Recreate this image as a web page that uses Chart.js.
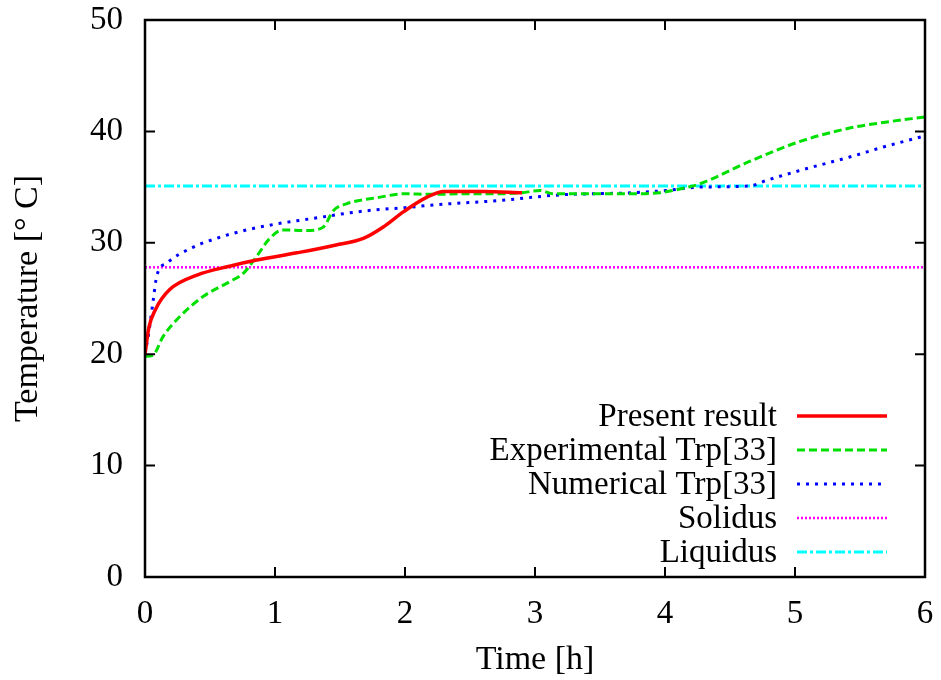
<!DOCTYPE html>
<html>
<head>
<meta charset="utf-8">
<script src="https://cdn.jsdelivr.net/npm/chart.js@4"></script>
<style>
  body { margin: 0; background: #fff; }
  #wrap { width: 941px; height: 680px; position: relative; }
</style>
</head>
<body>
<div id="wrap"><canvas id="tempChart"></canvas></div>
<script>
// values (time in hours, temperature in °C)
const presentTime = [0, 0.03, 0.08, 0.19, 0.4, 0.65, 0.86, 1.17, 1.47, 1.68, 1.83, 1.99, 2.17, 2.3, 2.6, 2.9];
const presentTemp = [20, 22.4, 24, 25.8, 27.1, 27.9, 28.45, 29.1, 29.8, 30.4, 31.4, 32.8, 34.1, 34.6, 34.6, 34.5];

const expTime = [0, 0.06, 0.14, 0.27, 0.45, 0.65, 0.76, 0.86, 0.96, 1.06, 1.24, 1.37, 1.45, 1.55, 1.81, 1.99, 2.2, 2.47, 2.73, 2.9, 3.04, 3.14, 3.24, 3.5, 3.76, 3.96, 4.14, 4.27, 4.65, 5.04, 5.42, 5.68, 6];
const expTemp = [19.8, 19.9, 21.6, 23.4, 25.2, 26.5, 27.3, 28.8, 30.4, 31.15, 31.1, 31.4, 32.9, 33.5, 34.1, 34.4, 34.35, 34.4, 34.4, 34.5, 34.7, 34.4, 34.4, 34.4, 34.4, 34.5, 34.9, 35.3, 37.3, 39.1, 40.3, 40.8, 41.3];

const numTime = [0, 0.03, 0.064, 0.09, 0.17, 0.35, 0.55, 0.78, 1.04, 1.3, 1.55, 1.81, 2.0, 2.22, 2.73, 3.19, 3.76, 4.01, 4.27, 4.65, 4.78, 5.04, 5.42, 5.68, 6];
const numTemp = [20, 22, 24.9, 27.0, 28.2, 29.5, 30.4, 31.15, 31.75, 32.2, 32.65, 33.0, 33.15, 33.4, 33.8, 34.3, 34.5, 34.7, 35.0, 35.1, 35.6, 36.5, 37.7, 38.6, 39.6];

const lineTime = [0, 6];
const solidusTemp = [27.8, 27.8];
const liquidusTemp = [35.1, 35.1];

const xTicks = [0, 1, 2, 3, 4, 5, 6];
const yTicks = [0, 10, 20, 30, 40, 50];

const seriesLabels = ['Present result', 'Experimental Trp[33]', 'Numerical Trp[33]', 'Solidus', 'Liquidus'];

const FONT = 'Liberation Serif';

function pts(xs, ys) {
  return xs.map((x, i) => ({ x: x, y: ys[i] }));
}

// frame, inside tick marks and the gnuplot style legend
const framePlugin = {
  id: 'frame',
  afterDatasetsDraw(chart) {
    const { ctx, chartArea: a, scales } = chart;
    ctx.save();
    ctx.strokeStyle = '#000';
    ctx.lineWidth = 2.5;
    ctx.setLineDash([]);
    ctx.strokeRect(a.left, a.top, a.right - a.left, a.bottom - a.top);
    ctx.lineWidth = 2;
    ctx.beginPath();
    yTicks.forEach(v => {
      const y = scales.y.getPixelForValue(v);
      ctx.moveTo(a.left, y); ctx.lineTo(a.left + 10, y);
      ctx.moveTo(a.right, y); ctx.lineTo(a.right - 10, y);
    });
    xTicks.forEach(v => {
      const x = scales.x.getPixelForValue(v);
      ctx.moveTo(x, a.bottom); ctx.lineTo(x, a.bottom - 10);
      ctx.moveTo(x, a.top); ctx.lineTo(x, a.top + 10);
    });
    ctx.stroke();

    // legend
    ctx.font = '33px "' + FONT + '"';
    ctx.textAlign = 'right';
    ctx.textBaseline = 'middle';
    chart.data.datasets.forEach((ds, i) => {
      const y = a.bottom - 161 + i * 34;
      ctx.fillStyle = '#000';
      ctx.fillText(ds.label, a.right - 148, y + 1);
      ctx.strokeStyle = ds.borderColor;
      ctx.lineWidth = ds.borderWidth;
      ctx.setLineDash(ds.borderDash || []);
      ctx.beginPath();
      ctx.moveTo(a.right - 128, y);
      ctx.lineTo(a.right - 38, y);
      ctx.stroke();
    });
    ctx.restore();
  }
};

const ctx = document.getElementById('tempChart').getContext('2d');

const tempChart = new Chart(ctx, {
  type: 'line',
  data: {
    datasets: [{
      label: seriesLabels[0],
      data: pts(presentTime, presentTemp),
      borderColor: '#ff0000',
      borderWidth: 3.5,
      cubicInterpolationMode: 'monotone'
    }, {
      label: seriesLabels[1],
      data: pts(expTime, expTemp),
      borderColor: '#00e000',
      borderWidth: 3,
      borderDash: [8, 4],
      cubicInterpolationMode: 'monotone'
    }, {
      label: seriesLabels[2],
      data: pts(numTime, numTemp),
      borderColor: '#0000ff',
      borderWidth: 3,
      borderDash: [3, 6],
      cubicInterpolationMode: 'monotone'
    }, {
      label: seriesLabels[3],
      data: pts(lineTime, solidusTemp),
      borderColor: '#ff00ff',
      borderWidth: 2.5,
      borderDash: [2, 2]
    }, {
      label: seriesLabels[4],
      data: pts(lineTime, liquidusTemp),
      borderColor: '#00ffff',
      borderWidth: 3,
      borderDash: [10, 3, 3, 3]
    }]
  },
  options: {
    responsive: true,
    maintainAspectRatio: false,
    animation: false,
    layout: { padding: { top: 20, right: 16, left: 0, bottom: 0 } },
    elements: { point: { radius: 0 } },
    plugins: {
      legend: { display: false },
      tooltip: { enabled: false }
    },
    scales: {
      x: {
        type: 'linear',
        min: 0,
        max: 6,
        afterFit: s => { s.height = 103; s.paddingLeft = 0; s.paddingRight = 0; },
        afterBuildTicks: s => { s.ticks = xTicks.map(v => ({ value: v })); },
        grid: { display: false },
        border: { display: false },
        ticks: { color: '#000', font: { family: FONT, size: 33 }, padding: 10, maxRotation: 0 },
        title: { display: true, text: 'Time [h]', color: '#000', font: { family: FONT, size: 34 }, padding: { top: 0, bottom: 0 } }
      },
      y: {
        min: 0,
        max: 50,
        afterFit: s => { s.width = 145; s.paddingTop = 0; s.paddingBottom = 0; },
        afterBuildTicks: s => { s.ticks = yTicks.map(v => ({ value: v })); },
        grid: { display: false },
        border: { display: false },
        ticks: { color: '#000', font: { family: FONT, size: 33 }, padding: 14 },
        title: { display: true, text: 'Temperature [° C]', color: '#000', font: { family: FONT, size: 34 }, padding: { top: 8, bottom: 0 } }
      }
    }
  },
  plugins: [framePlugin]
});
</script>
</body>
</html>
